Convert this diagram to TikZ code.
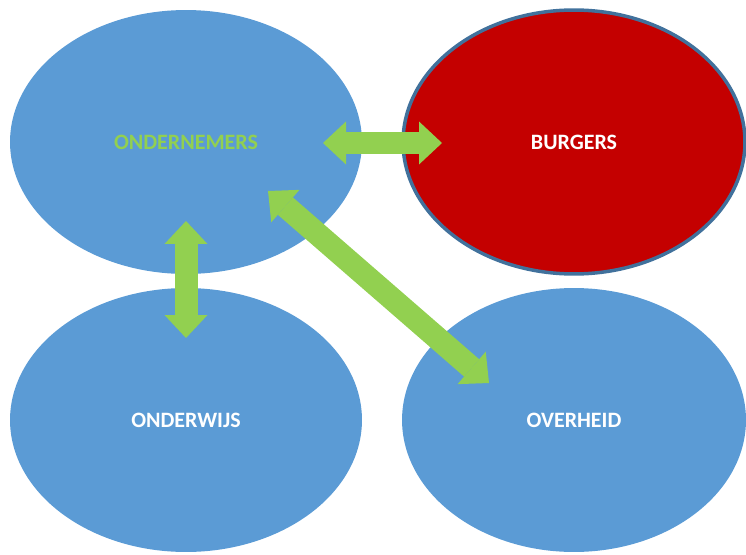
\documentclass[tikz,border=0pt]{standalone}
\usepackage{fontspec}
\setmainfont{Carlito}
\usepackage{tikz}
\usetikzlibrary{shapes,arrows.meta,positioning}
\definecolor{ellblue}{HTML}{5B9BD5}
\definecolor{burgred}{HTML}{C40000}
\definecolor{rimblue}{HTML}{41719C}
\definecolor{arrgreen}{HTML}{92D050}
\tikzset{
  party/.style={ellipse, fill=ellblue, inner sep=0pt, minimum width=7.04cm, minimum height=5.28cm,
    font=\fontsize{12.5}{15}\selectfont\bfseries, text=white},
  link/.style={arrgreen, line width=0.46cm,
    {Triangle[width=0.86cm,length=0.46cm,line width=0pt]}-{Triangle[width=0.86cm,length=0.46cm,line width=0pt]}}
}

\begin{document}
\begin{tikzpicture}[x=0.02cm,y=-0.02cm]
    \useasboundingbox (0,0) rectangle (746,554);

    % Ellipses
    \node[party, text=arrgreen] (ond) at (186,142) {ONDERNEMERS};
    \node[party, fill=burgred, draw=rimblue, line width=0.07cm, minimum width=6.84cm] (bur) at (574,142) {BURGERS};
    \node[party] (onw) at (186,420) {ONDERWIJS};
    \node[party, minimum width=6.88cm] (ovh) at (574,420) {OVERHEID};

    % Arrow ends
    \coordinate (h1) at (323,143);
    \coordinate (h2) at (442,143);
    \coordinate (v1) at (186,221);
    \coordinate (v2) at (186,338);
    \coordinate (d1) at (268,191);
    \coordinate (d2) at (489,383);

    % Arrows
    \draw[link] (h1) -- (h2);
    \draw[link] (v1) -- (v2);
    \draw[link] (d1) -- (d2);
\end{tikzpicture}
\end{document}
